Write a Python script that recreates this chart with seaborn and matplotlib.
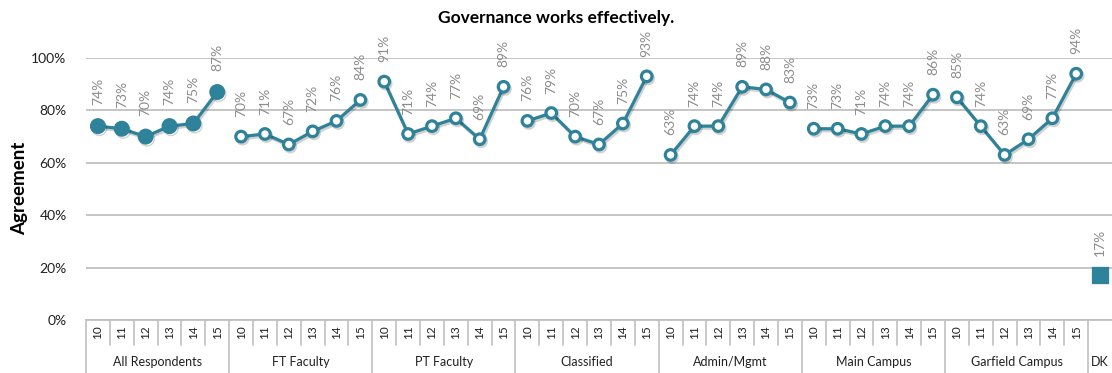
import numpy as np
import pandas as pd
import matplotlib
matplotlib.use("Agg")
import matplotlib.pyplot as plt
import matplotlib.patheffects as pe
import seaborn as sns
from matplotlib.transforms import blended_transform_factory

# ---- data ----
title = "Governance works effectively."
y_label = "Agreement"
years = ["10", "11", "12", "13", "14", "15"]
groups = ["All Respondents", "FT Faculty", "PT Faculty", "Classified",
          "Admin/Mgmt", "Main Campus", "Garfield Campus"]
all_respondents = [74, 73, 70, 74, 75, 87]
ft_faculty = [70, 71, 67, 72, 76, 84]
pt_faculty = [91, 71, 74, 77, 69, 89]
classified = [76, 79, 70, 67, 75, 93]
admin_mgmt = [63, 74, 74, 89, 88, 83]
main_campus = [73, 73, 71, 74, 74, 86]
garfield_campus = [85, 74, 63, 69, 77, 94]
dk_label = "DK"
dk_value = [17]

series = [all_respondents, ft_faculty, pt_faculty, classified,
          admin_mgmt, main_campus, garfield_campus]

rows = []
for gi, (g, vals) in enumerate(zip(groups, series)):
    for yi, (yr, v) in enumerate(zip(years, vals)):
        rows.append({"pos": gi * len(years) + yi, "year": yr, "group": g, "value": v / 100})
df = pd.DataFrame(rows)
n_cat = len(df) + 1
dk_pos = len(df)

# ---- style ----
sns.set_theme(style="white")
plt.rcParams["font.family"] = ["Lato", "DejaVu Sans"]

teal = "#2E8299"
label_gray = "#8C8C8C"
grid_gray = "#C0C0C0"
shadow = [pe.SimpleLineShadow(offset=(1, -1.5), alpha=0.18, shadow_color="black"), pe.Normal()]

fig = plt.figure(figsize=(11.12, 3.73), dpi=100)
ax = fig.add_axes([86 / 1112, 53 / 373, 1026 / 1112, 262 / 373])

label_kw = dict(textcoords="offset points", rotation=90, ha="center", va="bottom",
                fontsize=10, color=label_gray, annotation_clip=False)

for gi, g in enumerate(groups):
    sub = df[df["group"] == g]
    if gi == 0:
        sns.lineplot(data=sub, x="pos", y="value", ax=ax, color=teal, lw=2.3,
                     marker="o", markersize=10.5, markerfacecolor=teal,
                     markeredgecolor=teal, markeredgewidth=1, zorder=3)
        off = 15
    else:
        sns.lineplot(data=sub, x="pos", y="value", ax=ax, color=teal, lw=2.3,
                     marker="o", markersize=7.6, markerfacecolor="white",
                     markeredgecolor=teal, markeredgewidth=2.3, zorder=3)
        off = 14
    for _, r in sub.iterrows():
        ax.annotate(f"{int(round(r['value'] * 100))}%", (r["pos"], r["value"]),
                    xytext=(0, off), **label_kw)

for ln in ax.lines:
    ln.set_path_effects(shadow)

dk_df = pd.DataFrame({"pos": [dk_pos], "value": [v / 100 for v in dk_value]})
sns.scatterplot(data=dk_df, x="pos", y="value", ax=ax, marker="s", s=140,
                color=teal, edgecolor=teal, zorder=3)
for _, r in dk_df.iterrows():
    ax.annotate(f"{int(round(r['value'] * 100))}%", (r["pos"], r["value"]),
                xytext=(0, 14), **label_kw)

ax.set_xlim(-0.5, n_cat - 0.5)
ax.set_ylim(0, 1.0)
ax.set_yticks(np.arange(0, 1.01, 0.2))
ax.set_yticklabels([f"{int(round(t * 100))}%" for t in np.arange(0, 1.01, 0.2)],
                   fontsize=10, color="#202020")
ax.yaxis.grid(True, color=grid_gray, lw=1.3)
ax.set_axisbelow(True)
ax.set_xticks(list(df["pos"]))
ax.set_xticklabels(list(df["year"]), rotation=90, fontsize=8.5, color="#202020")
ax.tick_params(axis="x", length=0, pad=4)
ax.tick_params(axis="y", length=0, pad=14)
ax.set_xlabel("")
ax.set_ylabel("")
for s in ["top", "right", "left"]:
    ax.spines[s].set_visible(False)
ax.spines["bottom"].set_color(grid_gray)
ax.spines["bottom"].set_linewidth(1.3)

# category table lines
tr = blended_transform_factory(ax.transData, ax.transAxes)
for k in range(n_cat):
    xb = k - 0.5
    if k % len(years) == 0:
        ax.plot([xb, xb], [0, -0.205], transform=tr, color=grid_gray, lw=1.2, clip_on=False)
    else:
        ax.plot([xb, xb], [0, -0.095], transform=tr, color=grid_gray, lw=1.2, clip_on=False)

for gi, g in enumerate(groups):
    xc = gi * len(years) + (len(years) - 1) / 2
    ax.text(xc, -0.16, g, transform=tr, ha="center", va="center", fontsize=9, color="#202020")
ax.text(dk_pos, -0.16, dk_label, transform=tr, ha="center", va="center", fontsize=9, color="#202020")

fig.text(0.5, 1 - 18 / 373, title, ha="center", va="center",
         fontsize=12.5, fontweight="bold", color="black")
fig.text(20 / 1112, 1 - 188 / 373, y_label, rotation=90, ha="center", va="center",
         fontsize=13.5, fontweight="bold", color="black")

fig.savefig("out.png", dpi=100)
